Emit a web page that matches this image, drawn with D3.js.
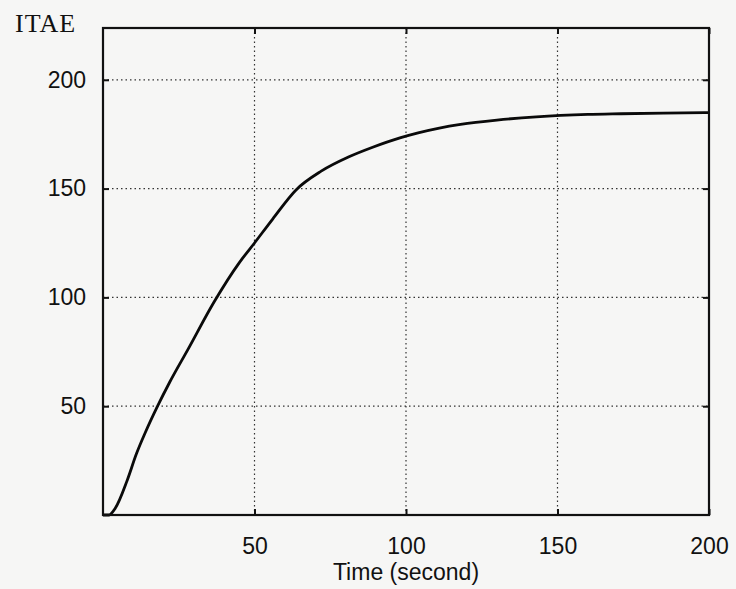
<meta charset="utf-8">
<html>
<script src="https://cdnjs.cloudflare.com/ajax/libs/d3/7.8.5/d3.min.js"></script>
<style>
body { margin: 0; background: #f6f6f5; }
svg { display: block; }
.tick-label { font-family: "Liberation Sans", Arial, sans-serif; font-size: 23px; fill: #111; }
.grid line { stroke: #333; stroke-width: 1.2; stroke-dasharray: 1.5,3; }
</style>
<body>
<svg id="chart" width="736" height="589"></svg>
<script>

// ITAE vs time
var timeVals = [0, 2, 4, 8, 11, 14, 18, 22, 28, 36.7, 45, 50, 56, 63.7, 72, 81, 89, 98, 104, 111, 118, 130, 143, 160, 171, 185, 200];
var itaeVals = [0, 0, 3, 16, 28, 38, 50, 61, 76, 98, 116, 125, 136, 149.4, 158, 164.5, 169, 173.3, 175.6, 177.8, 179.5, 181.5, 183, 184.1, 184.4, 184.7, 184.9];

var xTicks = [50, 100, 150, 200];
var yTicks = [50, 100, 150, 200];

var xLabel = "Time (second)";
var yLabel = "ITAE";

// plot box (window.top is reserved, so own names)
var boxL = 103, boxR = 709, boxT = 28, boxB = 515;

var svg = d3.select("#chart");

var x = d3.scaleLinear().domain([0, 200]).range([boxL, boxR]);
var y = d3.scaleLinear().domain([0, 223.8]).range([boxB, boxT]);

// dotted grid
var grid = svg.append("g").attr("class", "grid");
grid.selectAll("line.gy").data(yTicks).enter().append("line")
	.attr("x1", boxL).attr("x2", boxR)
	.attr("y1", function(d) { return y(d); }).attr("y2", function(d) { return y(d); });
grid.selectAll("line.gx").data(xTicks.filter(function(d) { return d < 200; })).enter().append("line")
	.attr("y1", boxT).attr("y2", boxB)
	.attr("x1", function(d) { return x(d); }).attr("x2", function(d) { return x(d); });

// the curve
var points = timeVals.map(function(t, i) { return [t, itaeVals[i]]; });
var line = d3.line()
	.x(function(d) { return x(d[0]); })
	.y(function(d) { return y(d[1]); })
	.curve(d3.curveMonotoneX);

svg.append("path")
	.datum(points)
	.attr("d", line)
	.attr("fill", "none")
	.attr("stroke", "#0a0a0a")
	.attr("stroke-width", 2.8)
	.attr("stroke-linejoin", "round");

// axes, ticks pointing inward (matlab style)
function styleAxis(g) {
	g.select(".domain").remove();
	g.selectAll(".tick line").attr("stroke", "#111").attr("stroke-width", 2);
	g.selectAll(".tick text").attr("class", "tick-label");
}

svg.append("g")
	.attr("transform", "translate(0," + boxB + ")")
	.call(d3.axisBottom(x).tickValues(xTicks).tickSizeInner(-6).tickPadding(23).tickSizeOuter(0))
	.call(styleAxis);

svg.append("g")
	.attr("transform", "translate(" + boxL + ",0)")
	.call(d3.axisLeft(y).tickValues(yTicks).tickSizeInner(-6).tickPadding(17).tickSizeOuter(0))
	.call(styleAxis);

svg.append("g")
	.attr("transform", "translate(" + boxR + ",0)")
	.call(d3.axisRight(y).tickValues(yTicks).tickSizeInner(-6).tickFormat("").tickSizeOuter(0))
	.call(styleAxis);

svg.append("g")
	.attr("transform", "translate(0," + boxT + ")")
	.call(d3.axisTop(x).tickValues(xTicks).tickSizeInner(-6).tickFormat("").tickSizeOuter(0))
	.call(styleAxis);

// box
svg.append("rect")
	.attr("x", boxL).attr("y", boxT)
	.attr("width", boxR - boxL).attr("height", boxB - boxT)
	.attr("fill", "none").attr("stroke", "#111").attr("stroke-width", 2.2);

svg.append("text")
	.attr("x", (boxL + boxR) / 2).attr("y", 580)
	.attr("text-anchor", "middle")
	.attr("class", "tick-label")
	.text(xLabel);

svg.append("text")
	.attr("x", 15).attr("y", 32)
	.style("font-family", "'Liberation Serif', 'Times New Roman', serif")
	.style("font-size", "26px")
	.style("letter-spacing", "1px")
	.attr("fill", "#111")
	.text(yLabel);

</script>
</body>
</html>
